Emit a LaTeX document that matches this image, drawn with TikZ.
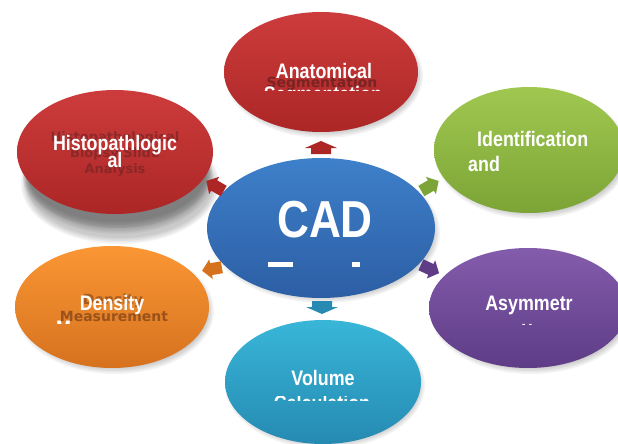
\documentclass[tikz,border=0pt]{standalone}
\usepackage{fontspec}
\setmainfont{Liberation Sans}
\newfontfamily\lab[FakeStretch=0.85]{Liberation Sans}
\newfontfamily\ghostf{DejaVu Sans}
\usetikzlibrary{shapes.geometric}
\definecolor{redT}{RGB}{205,60,60}\definecolor{redB}{RGB}{172,38,38}
\definecolor{bluT}{RGB}{62,128,202}\definecolor{bluB}{RGB}{44,94,164}
\definecolor{grnT}{RGB}{160,200,80}\definecolor{grnB}{RGB}{124,164,54}
\definecolor{purT}{RGB}{132,92,172}\definecolor{purB}{RGB}{94,60,134}
\definecolor{orgT}{RGB}{250,150,52}\definecolor{orgB}{RGB}{214,114,30}
\definecolor{cyaT}{RGB}{56,182,216}\definecolor{cyaB}{RGB}{38,138,178}
\definecolor{ghostR}{RGB}{110,34,34}
\definecolor{ghostO}{RGB}{140,74,26}
\tikzset{
  bubble/.style={ellipse, inner sep=0pt, minimum width=#1},
  wlab/.style={text=white, font=\lab\bfseries\fontsize{21}{25}\selectfont, inner sep=0pt, anchor=base},
  glab/.style={text=#1, font=\ghostf\bfseries\fontsize{14}{16}\selectfont, inner sep=0pt, anchor=base, opacity=0.85},
  barrow/.style={fill=#1},
}
\newcommand\shad[4]{% x y rx ry
  \foreach \k in {0,...,4}{
    \fill[black, opacity=0.045] (#1,#2) ellipse [x radius={#3-\k*1.5}, y radius={#4-\k*1.5}];
  }}
% squat arrow (top / bottom)
\newcommand\blockarr[4]{% name x,y angle color
  \fill[barrow=#4, shift={(#2)}, rotate=#3] (-6,-10) -- (0,-10) -- (0,-16) -- (7,0) -- (0,16) -- (0,10) -- (-6,10) -- cycle;
  \coordinate (#1) at (#2);}
% side arrow
\newcommand\sidearr[4]{% name x,y angle color
  \fill[barrow=#4, shift={(#2)}, rotate=#3] (-10,-6) -- (1,-6) -- (1,-10) -- (10,0) -- (1,10) -- (1,6) -- (-10,6) -- cycle;
  \coordinate (#1) at (#2);}
\begin{document}
\begin{tikzpicture}[x=1pt,y=-1pt]
\useasboundingbox (0,0) rectangle (618,444);
\clip (0,0) rectangle (618,444);
\fill[white] (0,0) rectangle (618,444);

% shadows
\shad{120}{184}{99}{60}
\shad{118}{178}{95}{56}
\shad{117}{172}{95}{56}
\shad{324}{76}{99}{62}
\shad{532}{154}{97}{65}
\shad{531}{312}{101}{62}
\shad{115}{311}{99}{63}
\shad{325}{385}{100}{64}
\shad{324}{232}{116}{71}

% ellipses
\node[bubble=194pt, minimum height=120pt, top color=redT, bottom color=redB] (anat) at (321,72) {};
\node[bubble=196pt, minimum height=124pt, top color=redT, bottom color=redB] (histo) at (115,152) {};
\node[bubble=190pt, minimum height=126pt, top color=grnT, bottom color=grnB] (ident) at (529,150) {};
\node[bubble=198pt, minimum height=120pt, top color=purT, bottom color=purB] (asym) at (528,308) {};
\node[bubble=194pt, minimum height=122pt, top color=orgT, bottom color=orgB] (dens) at (112,307) {};
\node[bubble=196pt, minimum height=124pt, top color=cyaT, bottom color=cyaB] (vol) at (323,382) {};
\node[bubble=228pt, minimum height=140pt, top color=bluT, bottom color=bluB] (cad) at (321,228) {};

% block arrows
\blockarr{aA}{321,148}{90}{redB}
\sidearr{aH}{215,186}{150}{redB}
\sidearr{aI}{430,186}{30}{grnB}
\sidearr{aD}{212,269}{190}{orgB}
\sidearr{aS}{430,269}{-25}{purB}
\blockarr{aV}{322,307}{-90}{cyaB}

% Anatomical
\node[glab=ghostR] (anatg) at (322,87) {Segmentation};
\node[wlab] (anatw) at (324,78) {Anatomical};
\begin{scope}
\clip (240,84) rectangle (400,90);
\node[wlab] (anatc) at (323,101) {Segmentation};
\end{scope}

% Histopathological
\node[glab=ghostR, opacity=0.6, font=\ghostf\bfseries\fontsize{13}{16}\selectfont] (histg1) at (115,141) {Histopathological};
\node[glab=ghostR, opacity=0.6, font=\ghostf\bfseries\fontsize{13}{16}\selectfont] (histg2) at (115,157) {Biopsy Slide};
\node[glab=ghostR, opacity=0.6, font=\ghostf\bfseries\fontsize{13}{16}\selectfont] (histg3) at (115,173) {Analysis};
\node[wlab] (histw1) at (115,150) {Histopathlogic};
\node[wlab] (histw2) at (115,167) {al};

% Identification
\node[wlab, anchor=base west] (identw1) at (477,146) {Identification};
\node[wlab, anchor=base west] (identw2) at (468,171) {and};

% CAD
\node[text=white, font=\lab\bfseries\fontsize{52}{60}\selectfont, inner sep=0pt, anchor=base] (cadw) at (325,237) {CAD};
\fill[white] (268,262) rectangle (293,267);
\fill[white] (352,262) rectangle (360,267);

% Asymmetry
\node[wlab] (asymw) at (529,310) {Asymmetr};
\begin{scope}
\clip (500,319) rectangle (560,324);
\node[wlab] (asymc) at (527,335) {y};
\end{scope}

% Density
\node[glab=ghostO, opacity=0.7] (densg1) at (113,304) {Density};
\node[glab=ghostO] (densg2) at (114,321) {Measurement};
\node[wlab] (densw) at (112,310) {Density};
\begin{scope}
\clip (54,319) rectangle (74,323);
\node[wlab, anchor=base west] (densc) at (56,335) {Measurement};
\end{scope}

% Volume
\node[wlab] (volw) at (323,385) {Volume};
\begin{scope}
\clip (260,396) rectangle (390,400);
\node[wlab] (volc) at (322,410) {Calculation};
\end{scope}
\end{tikzpicture}
\end{document}
